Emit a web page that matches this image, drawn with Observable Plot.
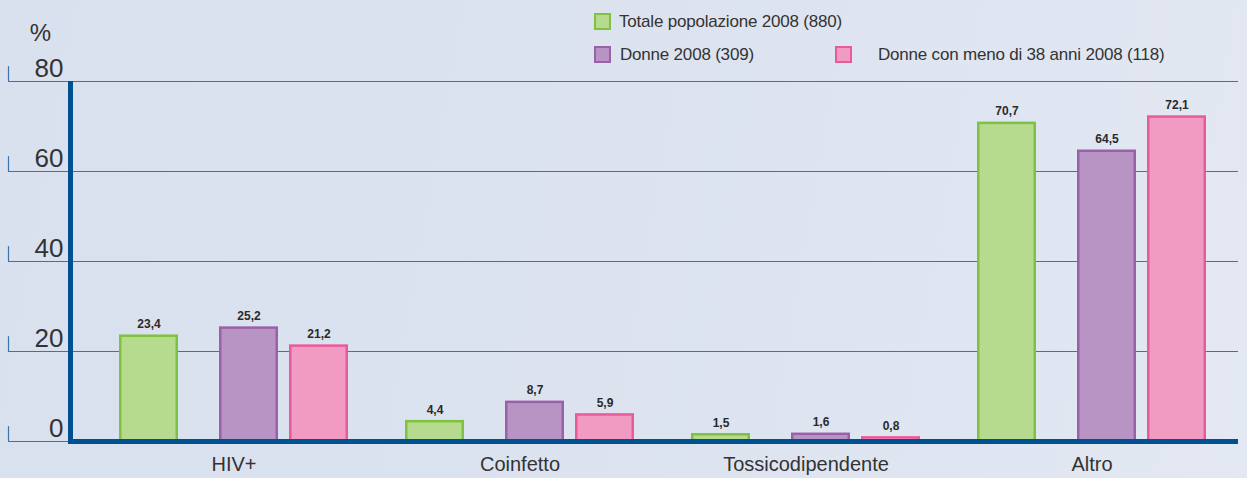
<!DOCTYPE html>
<html><head><meta charset="utf-8">
<script src="https://cdn.jsdelivr.net/npm/d3@7"></script>
<script src="https://cdn.jsdelivr.net/npm/@observablehq/plot@0.6"></script>
<style>
body{margin:0;background:#dce3ef;}
#wrap{position:relative;width:1247px;height:478px;overflow:hidden;background:linear-gradient(100deg,#d9e0ee 0%,#dde4f0 60%,#e3e8f2 100%);font-family:"Liberation Sans",Arial,sans-serif;color:#333;}
#wrap svg{position:absolute;left:0;top:0;}
.lt{position:absolute;font-size:17px;line-height:20px;white-space:nowrap;letter-spacing:-0.2px;color:#333;}
.sw{position:absolute;width:13px;height:13px;border:2.5px solid;}
</style></head><body><div id="wrap"></div>
<script>
const categories = ["HIV+", "Coinfetto", "Tossicodipendente", "Altro"];
const series = ["Totale popolazione 2008 (880)", "Donne 2008 (309)", "Donne con meno di 38 anni 2008 (118)"];
const totale = [23.4, 4.4, 1.5, 70.7];
const donne = [25.2, 8.7, 1.6, 64.5];
const donne38 = [21.2, 5.9, 0.8, 72.1];
const yTicks = [0, 20, 40, 60, 80];

const fills = ["#b6da8e", "#b894c5", "#f19bc3"];
const strokes = ["#7fc241", "#9a61a9", "#e95a9b"];

const W = 1247, H = 478, mL = 70, mR = 9, mT = 81, mB = 37;
const frameCenter = (mL + W - mR) / 2;
const groupW = 229, barW = 59, offsets = [0, 100, 170];
const values = [totale, donne, donne38];
const rows = series.flatMap((s, si) => categories.map((c, ci) => ({category: c, series: s, si, value: values[si][ci]})));
const fmt = v => v.toFixed(1).replace(".", ",");

const marks = [];
// gridlines
marks.push(Plot.ruleY(yTicks, {y: d => d, stroke: "#3b74ad", strokeWidth: 1.2, insetLeft: -(mL - 8)}));
// small upward ticks at the left end of each gridline
marks.push(Plot.ruleX(yTicks, {x: null, y1: d => d, y2: d => d + 3.3, stroke: "#3b74ad", strokeWidth: 1.2, dx: 8 - frameCenter}));
// bars and value labels
series.forEach((s, si) => {
  const data = rows.filter(r => r.si === si);
  marks.push(Plot.barY(data, {
    x: "category", y: "value", fill: fills[si], stroke: strokes[si], strokeWidth: 2.5,
    insetLeft: offsets[si] + 1.25, insetRight: groupW - offsets[si] - barW + 1.25
  }));
  marks.push(Plot.text(data, {
    x: "category", y: "value", text: d => fmt(d.value), dx: offsets[si] + barW / 2 - groupW / 2, dy: -8,
    lineAnchor: "bottom", fontSize: 12, fontWeight: "bold", fill: "#2a2a2a"
  }));
});
// thick axis lines
marks.push(Plot.ruleY([0], {stroke: "#00518f", strokeWidth: 5, insetLeft: -2}));
marks.push(Plot.ruleX([0], {x: null, y1: 0, y2: 80, stroke: "#00518f", strokeWidth: 5, dx: mL - frameCenter}));
// y tick labels and unit
marks.push(Plot.text(yTicks, {y: d => d, text: d => String(d), frameAnchor: "left", textAnchor: "end", dx: -7, dy: -5, lineAnchor: "bottom", fontSize: 26, fill: "#333"}));
marks.push(Plot.text(["%"], {frameAnchor: "top-left", text: d => d, dx: -30, dy: -41, textAnchor: "middle", lineAnchor: "bottom", fontSize: 24, fill: "#333"}));
marks.push(Plot.axisX({tickSize: 0, tickPadding: 15, fontSize: 20, fill: "#333", label: null}));

const chart = Plot.plot({
  width: W, height: H, marginTop: mT, marginBottom: mB, marginLeft: mL, marginRight: mR,
  style: {background: "transparent", fontFamily: "'Liberation Sans', Arial, sans-serif", color: "#333"},
  x: {domain: categories, paddingInner: 0.1993, paddingOuter: 0.1416, align: 0.605, axis: null},
  y: {domain: [0, 80], axis: null},
  marks
});
const wrap = document.getElementById("wrap");
wrap.appendChild(chart);

// legend
const legendItems = [
  {si: 0, sx: 594, sy: 13, tx: 619},
  {si: 1, sx: 594, sy: 46, tx: 620},
  {si: 2, sx: 835, sy: 46, tx: 878}
];
legendItems.forEach(({si, sx, sy, tx}) => {
  const sw = document.createElement("div");
  sw.className = "sw";
  sw.style.left = sx + "px"; sw.style.top = sy + "px";
  sw.style.background = fills[si]; sw.style.borderColor = strokes[si];
  wrap.appendChild(sw);
  const t = document.createElement("div");
  t.className = "lt";
  t.style.left = tx + "px"; t.style.top = (sy - 1) + "px";
  t.textContent = series[si];
  wrap.appendChild(t);
});
</script></body></html>
